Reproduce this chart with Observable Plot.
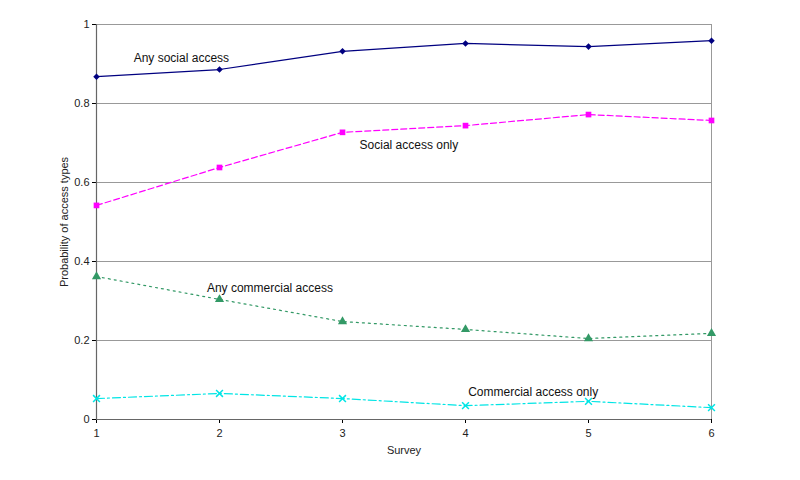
<!DOCTYPE html>
<html>
<head>
<meta charset="utf-8">
<script src="https://cdn.jsdelivr.net/npm/d3@7"></script>
<script src="https://cdn.jsdelivr.net/npm/@observablehq/plot@0.6"></script>
<style>
  html, body { margin: 0; padding: 0; background: #fff; }
  #chart { width: 800px; height: 480px; }
</style>
</head>
<body>
<div id="chart"></div>
<script>
const surveys = [1, 2, 3, 4, 5, 6];
const anySocial = [0.868, 0.886, 0.932, 0.952, 0.944, 0.959];
const socialOnly = [0.542, 0.638, 0.727, 0.744, 0.772, 0.757];
const anyCommercial = [0.362, 0.304, 0.248, 0.228, 0.205, 0.218];
const commercialOnly = [0.053, 0.066, 0.053, 0.035, 0.046, 0.030];
const yTicks = [0, 0.2, 0.4, 0.6, 0.8, 1];

const seriesNames = ["Any social access", "Social access only", "Any commercial access", "Commercial access only"];
const seriesValues = [anySocial, socialOnly, anyCommercial, commercialOnly];
const seriesColors = ["#000080", "#FF00FF", "#339966", "#00E5E5"];
const seriesDash = [null, "6,3", "2,4", "8,3,2,3"];
const seriesSymbols = ["square", "square", "triangle", "times"];
const seriesRotate = [45, 0, 0, 0];
const seriesR = [2.6, 3.2, 3.4, 3.2];
// label anchor points (data units)
const labelX = [1.69, 3.54, 2.41, 4.55];
const labelY = [0.916, 0.694, 0.332, 0.068];

const data = seriesNames.flatMap((name, i) =>
  surveys.map((s, j) => ({series: name, survey: s, value: seriesValues[i][j], idx: i})));
const labels = seriesNames.map((name, i) => ({text: name, x: labelX[i], y: labelY[i]}));

const marks = [
  Plot.ruleY(yTicks.filter(d => d > 0), {stroke: "#999", strokeWidth: 1}),
  Plot.ruleX([6], {stroke: "#999", strokeWidth: 1}),
  Plot.axisY({ticks: yTicks, tickSize: 4, tickPadding: 3, fontSize: 11, tickFormat: d => String(d),
    label: "Probability of access types", labelAnchor: "center", labelArrow: "none", labelOffset: 36, fill: "#222"}),
  Plot.axisX({ticks: surveys, tickSize: 4, tickPadding: 6, fontSize: 11, tickFormat: d => String(d),
    label: "Survey", labelAnchor: "center", labelArrow: "none", labelOffset: 34, fill: "#222"}),
  Plot.ruleX([1], {stroke: "#666", strokeWidth: 1.2}),
  Plot.ruleY([0], {stroke: "#666", strokeWidth: 1.2}),
];
seriesNames.forEach((name, i) => {
  const d = data.filter(r => r.idx === i);
  marks.push(Plot.line(d, {x: "survey", y: "value", stroke: seriesColors[i], strokeWidth: 1.2,
    strokeDasharray: seriesDash[i] || undefined}));
  const isStroke = seriesSymbols[i] === "times";
  marks.push(Plot.dot(d, {x: "survey", y: "value", symbol: seriesSymbols[i],
    r: seriesR[i], rotate: seriesRotate[i],
    fill: isStroke ? "none" : seriesColors[i],
    stroke: isStroke ? seriesColors[i] : "none", strokeWidth: 1.5}));
});
marks.push(Plot.text(labels, {x: "x", y: "y", text: "text", fontSize: 12, fill: "#111", textAnchor: "middle"}));

const chart = Plot.plot({
  width: 800,
  height: 480,
  marginLeft: 96,
  marginRight: 89,
  marginTop: 24,
  marginBottom: 61,
  style: {fontFamily: "Liberation Sans, Arial, sans-serif", background: "#fff"},
  x: {domain: [1, 6]},
  y: {domain: [0, 1]},
  marks
});
document.getElementById("chart").appendChild(chart);
</script>
</body>
</html>
